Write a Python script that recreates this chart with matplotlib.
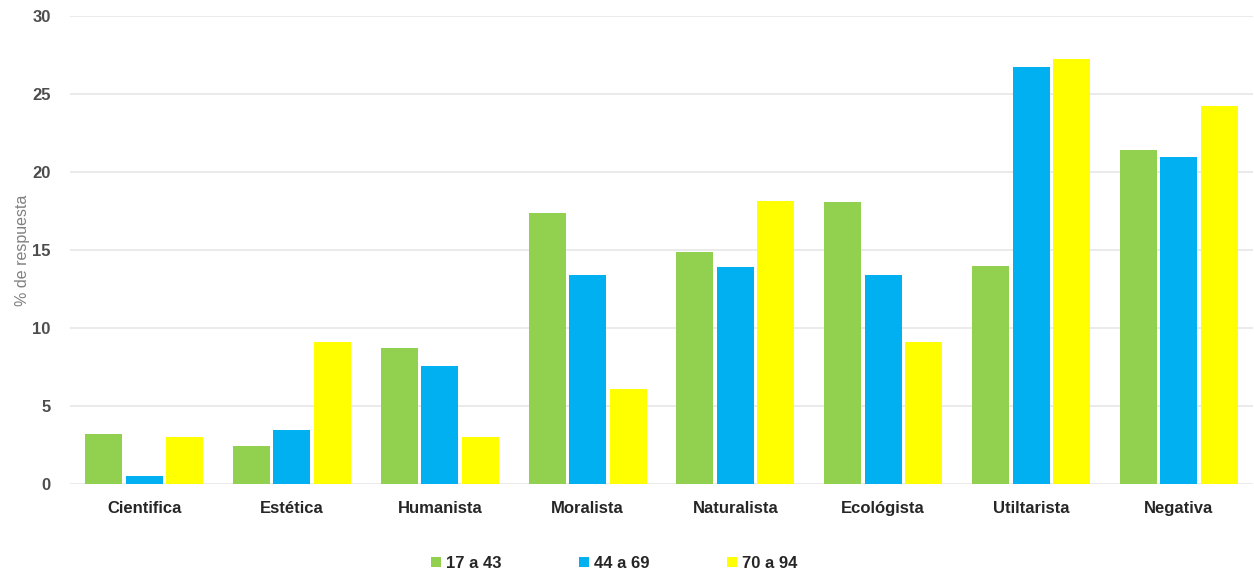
#!/usr/bin/env python3
import matplotlib
matplotlib.use("Agg")
import matplotlib.pyplot as plt
import numpy as np

categories = ['Cientifica', 'Estética', 'Humanista', 'Moralista',
              'Naturalista', 'Ecológista', 'Utiltarista', 'Negativa']
series_names = ['17 a 43', '44 a 69', '70 a 94']
g17_43 = [3.2, 2.45, 8.7, 17.35, 14.85, 18.1, 14.0, 21.45]
g44_69 = [0.55, 3.5, 7.6, 13.4, 13.9, 13.4, 26.75, 21.0]
g70_94 = [3.05, 9.1, 3.05, 6.1, 18.15, 9.1, 27.25, 24.25]
colors = ['#92D050', '#00B0F0', '#FFFF00']

plt.rcParams['font.family'] = ['Liberation Sans', 'DejaVu Sans']

fig = plt.figure(figsize=(12.54, 5.77), dpi=100)
ax = fig.add_axes([0.056, 0.161, 0.943, 0.811])

x = np.arange(len(categories))
step = 0.274
width = 0.25
for i, (vals, name, c) in enumerate(zip([g17_43, g44_69, g70_94], series_names, colors)):
    ax.bar(x + (i - 1) * step, vals, width, color=c, label=name, zorder=3)

ax.set_xlim(-0.5, len(categories) - 0.5)
ax.set_ylim(0, 30)
ax.set_yticks(range(0, 31, 5))
ax.yaxis.grid(True, color='#e6e6e6', linewidth=1.2, zorder=0)
ax.set_xticks(x)
ax.set_xticklabels(categories, fontsize=12, fontweight='bold', color='#262626')
ax.tick_params(axis='x', length=0, pad=12)
ax.tick_params(axis='y', length=0, labelsize=12, labelcolor='#4d4d4d', pad=14)
for lbl in ax.get_yticklabels():
    lbl.set_fontweight('bold')
for s in ax.spines.values():
    s.set_visible(False)
ax.set_ylabel('% de respuesta', fontsize=11.5, color='#808080', labelpad=2)

leg = ax.legend(loc='upper center', bbox_to_anchor=(0.46, -0.121), ncol=3,
                frameon=False, handlelength=0.6, handleheight=0.6,
                handletextpad=0.3, columnspacing=4.66,
                prop={'size': 12, 'weight': 'bold'})
for t in leg.get_texts():
    t.set_color('#262626')

fig.savefig('out.png', dpi=100)
